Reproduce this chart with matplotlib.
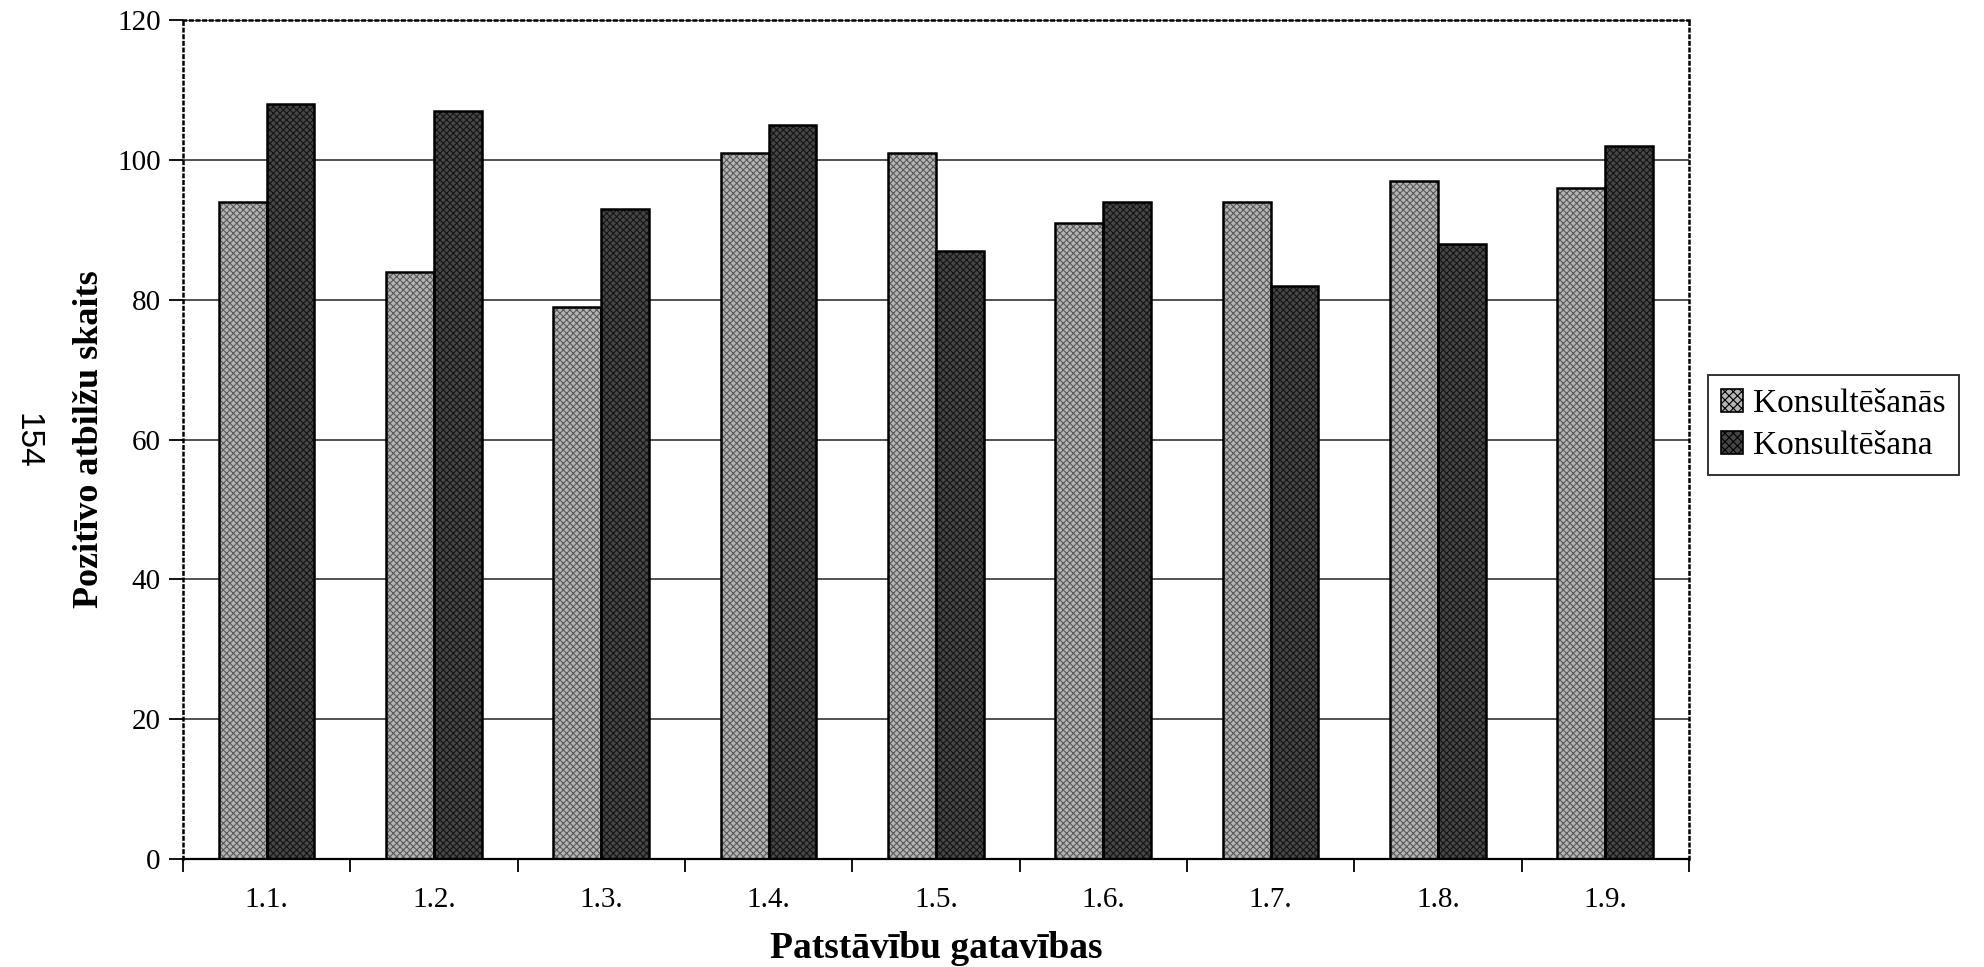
import matplotlib

matplotlib.use("Agg")
import matplotlib.pyplot as plt
import numpy as np
from matplotlib.patches import Patch

categories = ["1.1.", "1.2.", "1.3.", "1.4.", "1.5.", "1.6.", "1.7.", "1.8.", "1.9."]
konsultesanas = [94, 84, 79, 101, 101, 91, 94, 97, 96]
konsultesana = [108, 107, 93, 105, 87, 94, 82, 88, 102]
series_names = ["Konsultēšanās", "Konsultēšana"]

y_ticks = [0, 20, 40, 60, 80, 100, 120]

plt.rcParams["font.family"] = ["Liberation Serif", "DejaVu Serif"]
plt.rcParams["hatch.linewidth"] = 0.8

fig = plt.figure(figsize=(19.84, 9.67), dpi=100)
ax = fig.add_axes([0.0922, 0.1117, 0.7591, 0.8676])

x = np.arange(len(categories))
width = 0.286
light_face, light_hatch = "#b4b4b4", "#5a5a5a"
dark_face, dark_hatch = "#464646", "#151515"

# textured fill first, then a crisp black outline on top
ax.bar(x - width / 2, konsultesanas, width, color=light_face, edgecolor=light_hatch,
       hatch="xxxxx", linewidth=0, zorder=2)
ax.bar(x + width / 2, konsultesana, width, color=dark_face, edgecolor=dark_hatch,
       hatch="xxxxx", linewidth=0, zorder=2)
ax.bar(x - width / 2, konsultesanas, width, facecolor="none", edgecolor="black",
       linewidth=1.8, zorder=3)
ax.bar(x + width / 2, konsultesana, width, facecolor="none", edgecolor="black",
       linewidth=1.8, zorder=3)

ax.set_xlim(-0.5, len(categories) - 0.5)
ax.set_ylim(0, 120)
ax.set_yticks(y_ticks)
ax.yaxis.grid(True, color="#333333", linewidth=1.2, zorder=1)
ax.set_axisbelow(True)

# category labels centred, tick marks on category boundaries
ax.set_xticks(x)
ax.set_xticklabels(categories, fontsize=21)
ax.tick_params(axis="x", which="major", length=0, pad=20)
ax.set_xticks(np.arange(len(categories) + 1) - 0.5, minor=True)
ax.tick_params(axis="x", which="minor", length=9, width=1.3, direction="out")
ax.tick_params(axis="y", labelsize=21, length=10, width=1.3, direction="out", pad=6)

ax.spines["bottom"].set_linewidth(1.6)
for side in ["left", "top", "right"]:
    ax.spines[side].set_linestyle(":")
    ax.spines[side].set_linewidth(1.8)

ax.set_xlabel("Patstāvību gatavības", fontsize=27, fontweight="bold")
ax.xaxis.set_label_coords(0.5, -0.086)
ax.set_ylabel("Pozitīvo atbilžu skaits", fontsize=26, fontweight="bold")
ax.yaxis.set_label_coords(-0.051, 0.5)

handles = [
    Patch(facecolor=light_face, edgecolor="black", hatch="xxxx", linewidth=1.2),
    Patch(facecolor=dark_face, edgecolor="black", hatch="xxxx", linewidth=1.2),
]
leg = fig.legend(handles, series_names, loc="center left",
                 bbox_to_anchor=(1708 / 1984, 1 - 425 / 967), fontsize=24,
                 frameon=True, fancybox=False, edgecolor="black",
                 handlelength=0.65, handleheight=0.65, handletextpad=0.3,
                 borderpad=0.4, labelspacing=0.35, borderaxespad=0)
leg.get_frame().set_linewidth(1.4)

# page number printed sideways in the margin
fig.text(27 / 1984, 1 - 441 / 967, "154", rotation=270, fontsize=24,
         family=["Liberation Sans", "DejaVu Sans"], ha="center", va="center")

fig.savefig("out.png", dpi=100, facecolor="white")
